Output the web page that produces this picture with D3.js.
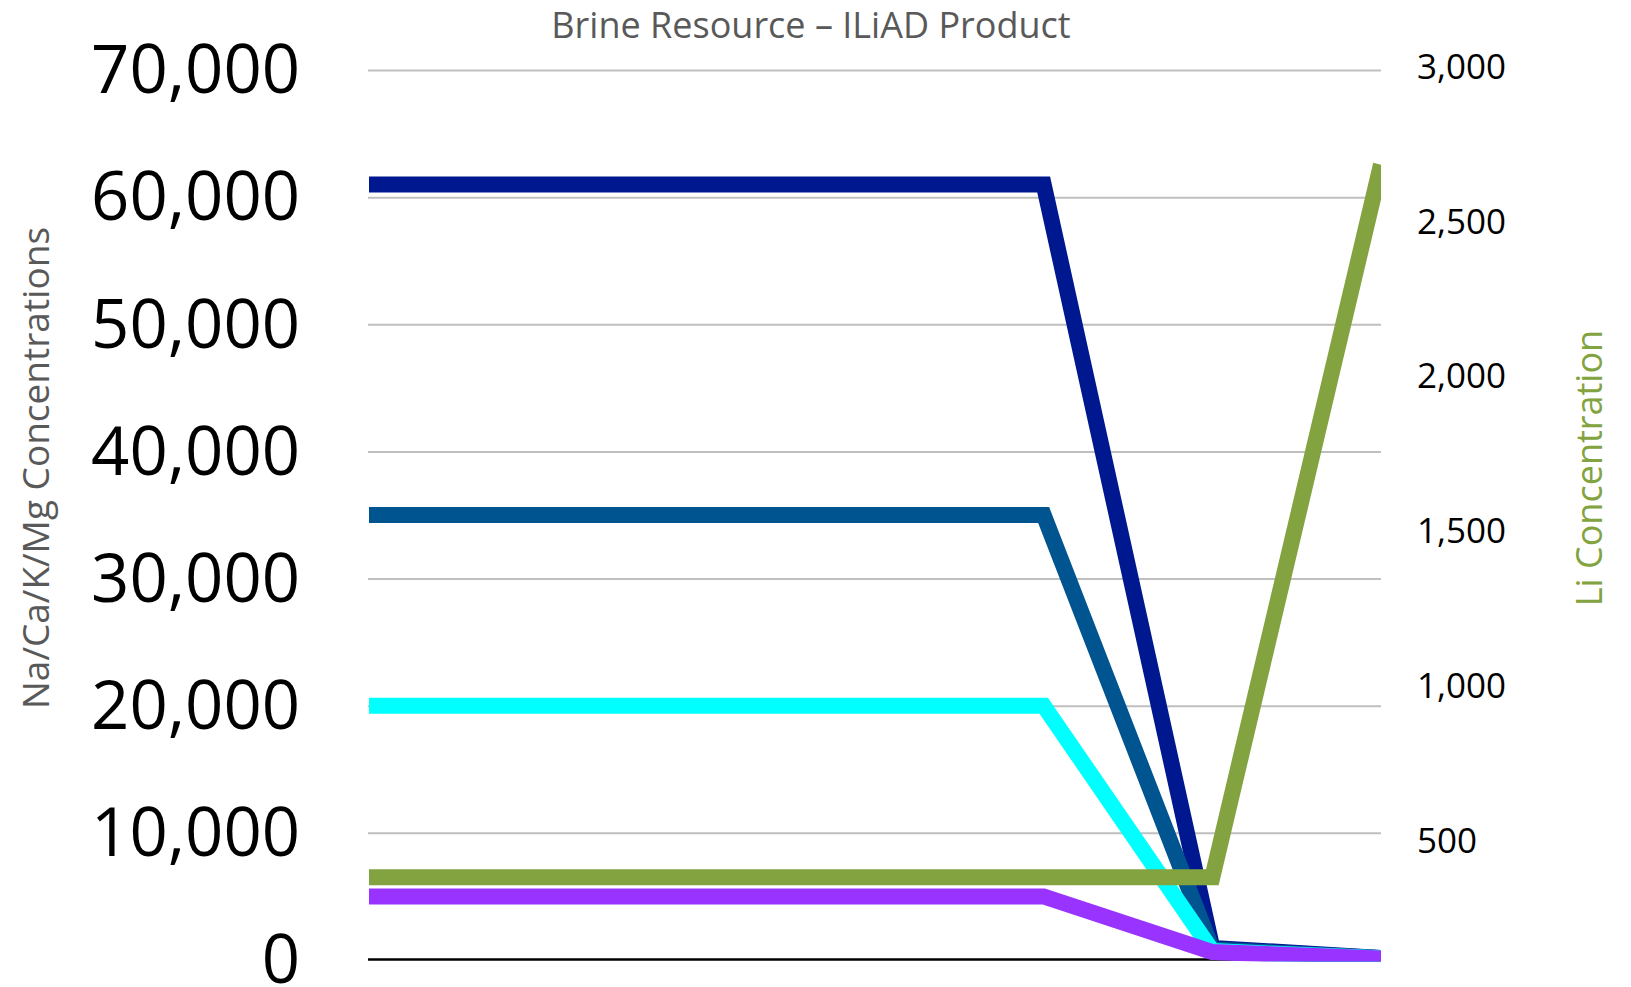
<!DOCTYPE html>
<html>
<head>
<meta charset="utf-8">
<script src="https://cdn.jsdelivr.net/npm/d3@7/dist/d3.min.js"></script>
<style>
  html, body { margin: 0; padding: 0; background: #ffffff; }
  svg { display: block; }
</style>
</head>
<body>
<svg id="chart" width="1631" height="987"></svg>
<script>
// ---------------- DATA ----------------
const chartTitle = "Brine Resource – ILiAD Product";
const leftAxisTitle = "Na/Ca/K/Mg Concentrations";
const rightAxisTitle = "Li Concentration";

const categories = ["Stage 1", "Stage 2", "Stage 3", "Stage 4", "Stage 5", "Stage 6", "Stage 7"];

const naValues = [61000, 61000, 61000, 61000, 61000, 950, 160];
const caValues = [35000, 35000, 35000, 35000, 35000, 830, 150];
const kValues  = [20000, 20000, 20000, 20000, 20000, 700, 130];
const mgValues = [5000, 5000, 5000, 5000, 5000, 630, 120];
const liValues = [380, 380, 380, 380, 380, 380, 2680];

const leftTicks  = [0, 10000, 20000, 30000, 40000, 50000, 60000, 70000];
const rightTicks = [500, 1000, 1500, 2000, 2500, 3000];

const seriesNames  = ["Na", "Ca", "K", "Mg"];
const seriesColors = ["#00188f", "#005591", "#00ffff", "#9933ff"];
const liColor = "#82a33f";

// ---------------- LAYOUT ----------------
const svg = d3.select("#chart");
const plotLeft = 368, plotRight = 1381, plotTop = 70, plotBottom = 960;
const font = "'Open Sans', 'Noto Sans', sans-serif";

const x = d3.scalePoint().domain(categories).range([plotLeft + 1, plotRight]);
const yLeft = d3.scaleLinear().domain([0, 70000]).range([plotBottom, plotTop]);
const yRight = d3.scaleLinear().domain([0, 3000]).range([995, 65.5]);

// clip
svg.append("defs").append("clipPath").attr("id", "plotClip")
  .append("rect").attr("x", plotLeft).attr("y", 0)
  .attr("width", plotRight - plotLeft).attr("height", plotBottom + 1.5);

// gridlines
const gridAxis = d3.axisLeft(yLeft).tickValues(leftTicks.filter(d => d > 0))
  .tickSize(-(plotRight - plotLeft)).tickFormat("");
const gridG = svg.append("g").attr("transform", `translate(${plotLeft},0)`).call(gridAxis);
gridG.select(".domain").remove();
gridG.selectAll(".tick line").attr("stroke", "#bfbfbf").attr("stroke-width", 2);

// zero line
svg.append("line")
  .attr("x1", plotLeft).attr("x2", plotRight)
  .attr("y1", yLeft(0) - 0.5).attr("y2", yLeft(0) - 0.5)
  .attr("stroke", "#000000").attr("stroke-width", 2.5);

// left axis labels
const leftAxis = d3.axisLeft(yLeft).tickValues(leftTicks).tickSize(0).tickPadding(0)
  .tickFormat(d3.format(","));
const leftG = svg.append("g").attr("transform", `translate(300,0)`).call(leftAxis);
leftG.select(".domain").remove();
leftG.selectAll(".tick text")
  .attr("font-family", font).attr("font-size", 67).attr("fill", "#000")
  .attr("x", 0).attr("dy", "0.34em").attr("text-anchor", "end");

// right axis labels
const rightAxis = d3.axisRight(yRight).tickValues(rightTicks).tickSize(0).tickPadding(0)
  .tickFormat(d3.format(","));
const rightG = svg.append("g").attr("transform", `translate(1417,0)`).call(rightAxis);
rightG.select(".domain").remove();
rightG.selectAll(".tick text")
  .attr("font-family", font).attr("font-size", 35).attr("fill", "#000")
  .attr("x", 0).attr("dy", "0.36em").attr("text-anchor", "start");

// series lines
const lineLeft = d3.line().x((d, i) => x(categories[i])).y(d => yLeft(d));
const lineRight = d3.line().x((d, i) => x(categories[i])).y(d => yRight(d));
const series = [naValues, caValues, kValues, mgValues];
const linesG = svg.append("g").attr("clip-path", "url(#plotClip)");
series.forEach((vals, k) => {
  linesG.append("path").datum(vals)
    .attr("class", "series-" + seriesNames[k])
    .attr("d", lineLeft)
    .attr("fill", "none").attr("stroke", seriesColors[k])
    .attr("stroke-width", 16).attr("stroke-linejoin", "miter").attr("stroke-miterlimit", 2);
});
linesG.append("path").datum(liValues)
  .attr("class", "series-Li")
  .attr("d", lineRight)
  .attr("fill", "none").attr("stroke", liColor)
  .attr("stroke-width", 16).attr("stroke-linejoin", "miter").attr("stroke-miterlimit", 2);

// title
svg.append("text").attr("x", 811).attr("y", 38)
  .attr("text-anchor", "middle").attr("font-family", font).attr("font-size", 36)
  .attr("fill", "#595959").text(chartTitle);

// left axis title
svg.append("text").attr("transform", "translate(49,468) rotate(-90)")
  .attr("text-anchor", "middle").attr("font-family", font).attr("font-size", 37)
  .attr("fill", "#595959").text(leftAxisTitle);

// right axis title
svg.append("text").attr("transform", "translate(1602,468) rotate(-90)")
  .attr("text-anchor", "middle").attr("font-family", font).attr("font-size", 36)
  .attr("fill", liColor).text(rightAxisTitle);
</script>
</body>
</html>
